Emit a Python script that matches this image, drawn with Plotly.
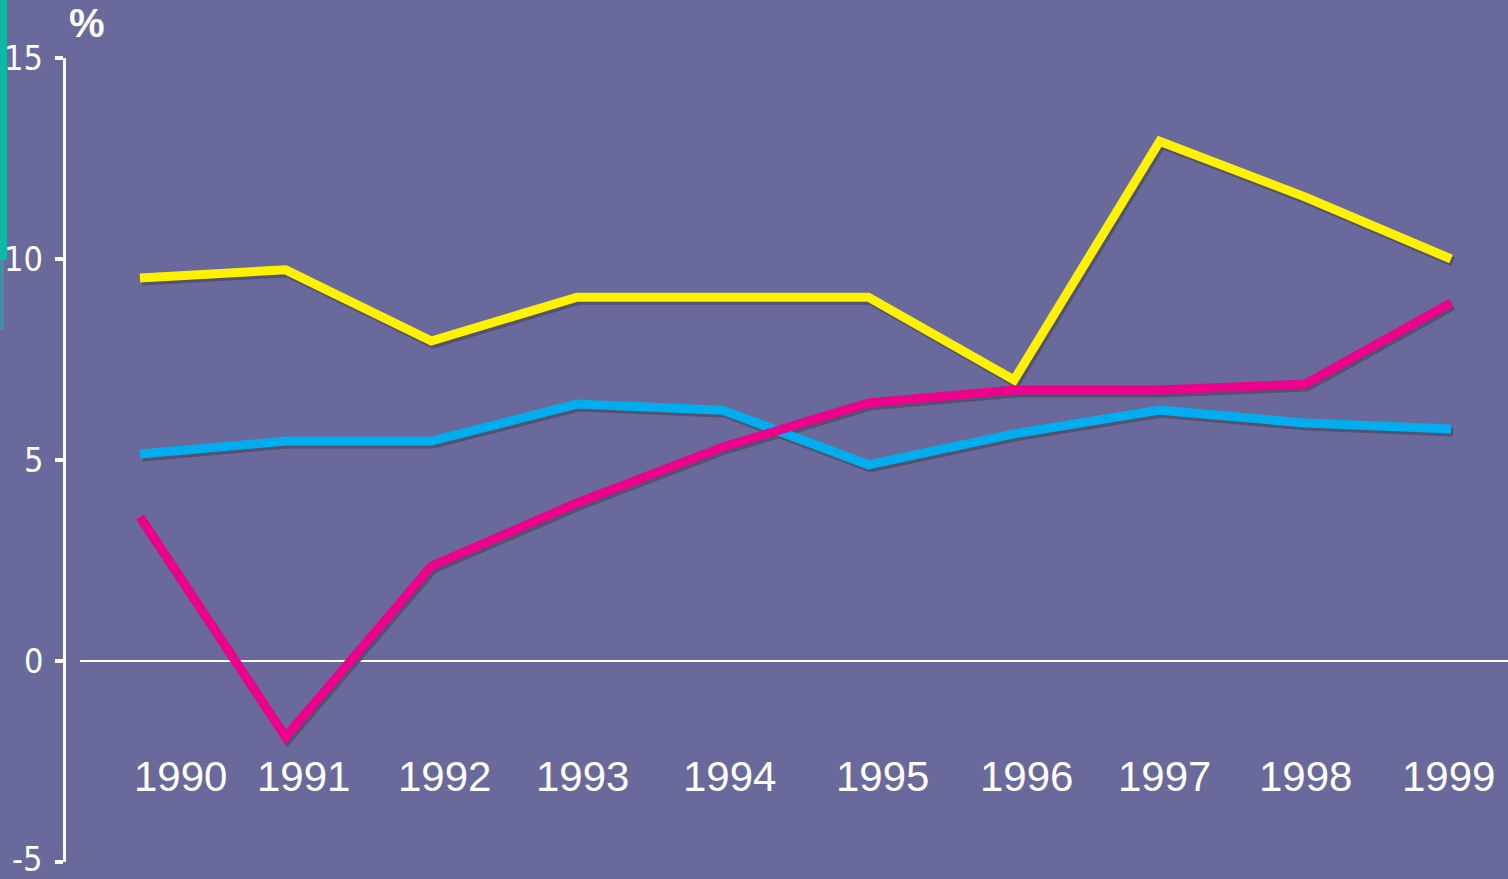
import plotly.graph_objects as go

years = [1990, 1991, 1992, 1993, 1994, 1995, 1996, 1997, 1998, 1999]
year_labels = ["1990", "1991", "1992", "1993", "1994", "1995", "1996", "1997", "1998", "1999"]
yellow_series = [9.53, 9.73, 7.96, 9.05, 9.05, 9.05, 6.99, 12.93, 11.54, 10.0]
blue_series = [5.15, 5.47, 5.47, 6.39, 6.24, 4.88, 5.65, 6.24, 5.92, 5.77]
pink_series = [3.58, -1.89, 2.36, 3.93, 5.32, 6.42, 6.74, 6.74, 6.89, 8.91]
y_ticks = [-5, 0, 5, 10, 15]

W, H = 1508, 879
BG = "#69699b"
SHADOW = "#525272"
colors = {"yellow": "#fff200", "blue": "#00aeef", "pink": "#ec008c"}

# axis geometry (styling)
x_range = [1989.039, 1999.391]
y_range = [-5, 15]
y_dom = [1 - 862 / H, 1 - 58 / H]
px_per_x = W / (x_range[1] - x_range[0])
px_per_y = (862 - 58) / (y_range[1] - y_range[0])
sdx, sdy = 2, 3  # shadow offset in px
x_range_sh = [x_range[0] - sdx / px_per_x, x_range[1] - sdx / px_per_x]
y_range_sh = [y_range[0] + sdy / px_per_y, y_range[1] + sdy / px_per_y]

label_shift = [41, 18, 13, 5, 7, 14, 12, 5, 0, -3]
TICK_FONT = "Liberation Sans Narrow, DejaVu Sans Condensed, Roboto Condensed, sans-serif"

fig = go.Figure()

series = [("Yellow", yellow_series, colors["yellow"]),
          ("Blue", blue_series, colors["blue"]),
          ("Pink", pink_series, colors["pink"])]

for name, vals, c in series:
    fig.add_trace(go.Scatter(x=years, y=vals, mode="lines", xaxis="x", yaxis="y",
                             line=dict(color=SHADOW, width=9), hoverinfo="skip",
                             showlegend=False))
for name, vals, c in series:
    fig.add_trace(go.Scatter(x=years, y=vals, mode="lines", name=name,
                             xaxis="x2", yaxis="y2",
                             line=dict(color=c, width=9), showlegend=False))

annotations = []
for yr, lab, sh in zip(years, year_labels, label_shift):
    annotations.append(dict(x=yr, y=-2.885, xref="x2", yref="y2", text=lab,
                            showarrow=False, xshift=sh, yanchor="middle",
                            font=dict(family="Liberation Sans, Arial, sans-serif",
                                      size=42, color="white")))
# y tick labels as annotations (right-aligned left of the axis)
for t in y_ticks:
    annotations.append(dict(x=45 / W, y=t, xref="paper", yref="y2", text=str(t),
                            showarrow=False, xanchor="right", yanchor="middle",
                            yshift=3 if t == y_ticks[0] else 0,
                            font=dict(family=TICK_FONT, size=34, color="white")))
annotations.append(dict(x=87 / W, y=1 - 23 / H, xref="paper", yref="paper", text="<b>%</b>",
                        showarrow=False, xanchor="center", yanchor="middle",
                        font=dict(family="Liberation Sans, Arial, sans-serif", size=40,
                                  color="white")))

shapes = [
    dict(type="line", xref="paper", yref="y2", x0=80 / W, x1=1, y0=0, y1=0,
         line=dict(color="white", width=2), layer="below"),
    dict(type="rect", xref="paper", yref="paper", x0=0, x1=7 / W, y0=1 - 260 / H, y1=1,
         fillcolor="#0fb8a4", line=dict(width=0), layer="below"),
    dict(type="rect", xref="paper", yref="paper", x0=0, x1=4 / W, y0=1 - 330 / H, y1=1 - 260 / H,
         fillcolor="#3f8fa6", line=dict(width=0), layer="below"),
]

fig.update_layout(
    width=W, height=H,
    autosize=False,
    margin=dict(l=0, r=0, t=0, b=0, pad=0, autoexpand=False),
    paper_bgcolor=BG, plot_bgcolor=BG,
    showlegend=False,
    xaxis=dict(range=x_range_sh, domain=[0, 1], visible=False, automargin=False),
    yaxis=dict(range=y_range_sh, domain=y_dom, visible=False, automargin=False),
    xaxis2=dict(range=x_range, domain=[0, 1], overlaying="x", visible=False,
                anchor="y2", automargin=False),
    yaxis2=dict(range=y_range, domain=y_dom, overlaying="y", anchor="free", position=64 / W,
                automargin=False,
                tickvals=y_ticks, showticklabels=False,
                showgrid=False, zeroline=False,
                showline=True, linecolor="white", linewidth=3,
                ticks="outside", ticklen=8, tickwidth=4, tickcolor="white"),
    annotations=annotations,
    shapes=shapes,
)

fig.write_html("out.html", config={"displayModeBar": False},
               post_script="document.body.style.margin='0';document.body.style.background='" + BG + "';")
